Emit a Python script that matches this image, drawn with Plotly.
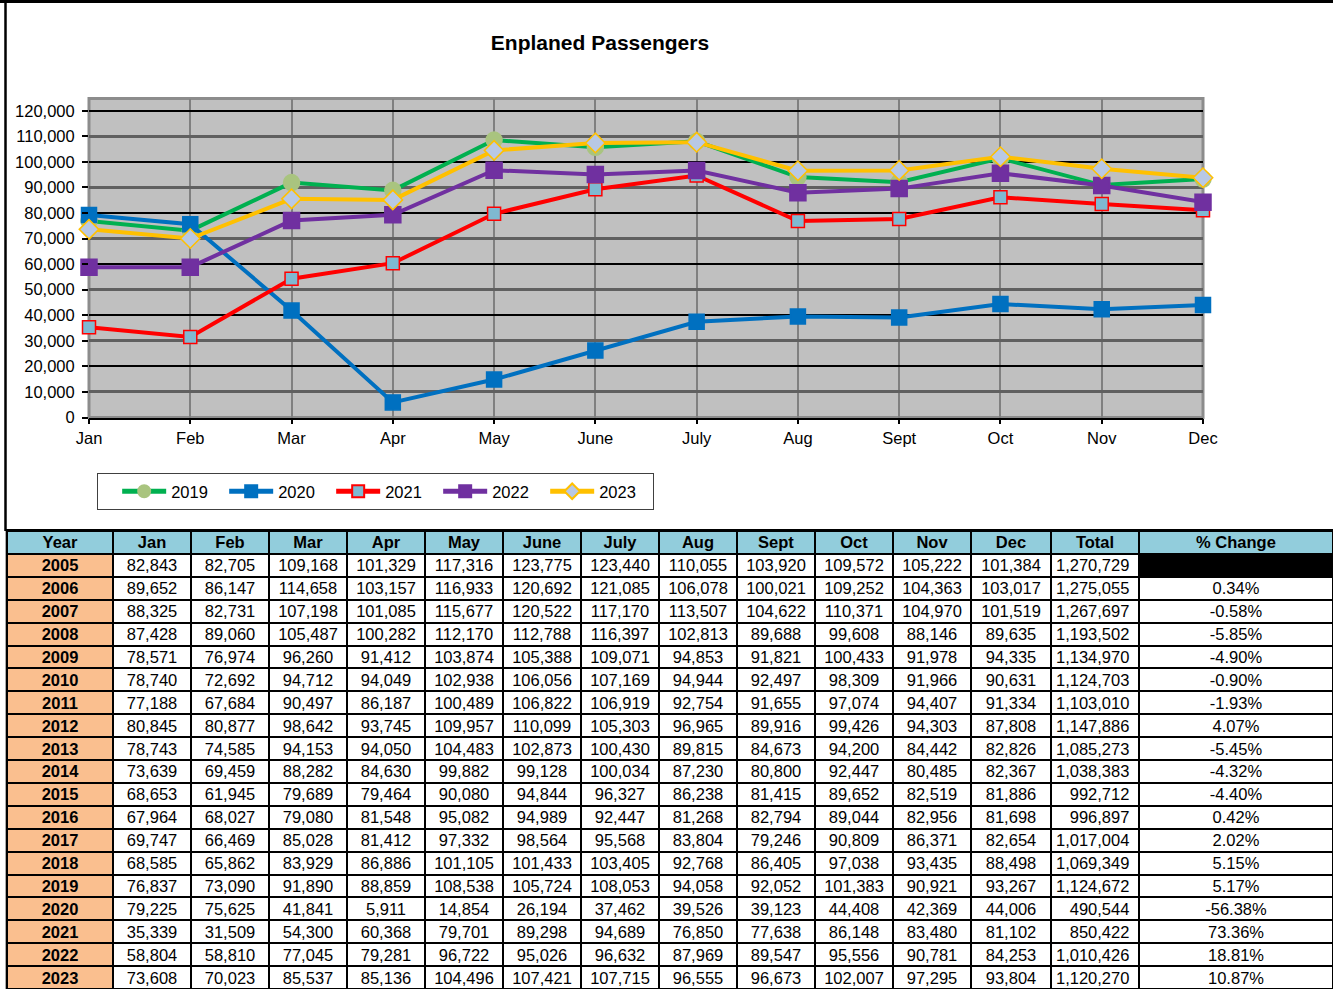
import plotly.graph_objects as go

W, H = 1333, 989

months = ["Jan", "Feb", "Mar", "Apr", "May", "June", "July", "Aug", "Sept", "Oct", "Nov", "Dec"]
years = list(range(2005, 2024))

jan = [82843, 89652, 88325, 87428, 78571, 78740, 77188, 80845, 78743, 73639, 68653, 67964, 69747, 68585, 76837, 79225, 35339, 58804, 73608]
feb = [82705, 86147, 82731, 89060, 76974, 72692, 67684, 80877, 74585, 69459, 61945, 68027, 66469, 65862, 73090, 75625, 31509, 58810, 70023]
mar = [109168, 114658, 107198, 105487, 96260, 94712, 90497, 98642, 94153, 88282, 79689, 79080, 85028, 83929, 91890, 41841, 54300, 77045, 85537]
apr = [101329, 103157, 101085, 100282, 91412, 94049, 86187, 93745, 94050, 84630, 79464, 81548, 81412, 86886, 88859, 5911, 60368, 79281, 85136]
may = [117316, 116933, 115677, 112170, 103874, 102938, 100489, 109957, 104483, 99882, 90080, 95082, 97332, 101105, 108538, 14854, 79701, 96722, 104496]
jun = [123775, 120692, 120522, 112788, 105388, 106056, 106822, 110099, 102873, 99128, 94844, 94989, 98564, 101433, 105724, 26194, 89298, 95026, 107421]
jul = [123440, 121085, 117170, 116397, 109071, 107169, 106919, 105303, 100430, 100034, 96327, 92447, 95568, 103405, 108053, 37462, 94689, 96632, 107715]
aug = [110055, 106078, 113507, 102813, 94853, 94944, 92754, 96965, 89815, 87230, 86238, 81268, 83804, 92768, 94058, 39526, 76850, 87969, 96555]
sep = [103920, 100021, 104622, 89688, 91821, 92497, 91655, 89916, 84673, 80800, 81415, 82794, 79246, 86405, 92052, 39123, 77638, 89547, 96673]
oct_ = [109572, 109252, 110371, 99608, 100433, 98309, 97074, 99426, 94200, 92447, 89652, 89044, 90809, 97038, 101383, 44408, 86148, 95556, 102007]
nov = [105222, 104363, 104970, 88146, 91978, 91966, 94407, 94303, 84442, 80485, 82519, 82956, 86371, 93435, 90921, 42369, 83480, 90781, 97295]
dec = [101384, 103017, 101519, 89635, 94335, 90631, 91334, 87808, 82826, 82367, 81886, 81698, 82654, 88498, 93267, 44006, 81102, 84253, 93804]
totals = [1270729, 1275055, 1267697, 1193502, 1134970, 1124703, 1103010, 1147886, 1085273, 1038383, 992712, 996897, 1017004, 1069349, 1124672, 490544, 850422, 1010426, 1120270]
pct_change = ["", "0.34%", "-0.58%", "-5.85%", "-4.90%", "-0.90%", "-1.93%", "4.07%", "-5.45%", "-4.32%", "-4.40%", "0.42%", "2.02%", "5.15%", "5.17%", "-56.38%", "73.36%", "18.81%", "10.87%"]

month_cols = [jan, feb, mar, apr, may, jun, jul, aug, sep, oct_, nov, dec]
chart_years = [2019, 2020, 2021, 2022, 2023]

# ---- styles ----
line_colors = {2019: "#00B050", 2020: "#0070C0", 2021: "#FF0000", 2022: "#7030A0", 2023: "#FFC000"}
marker_fill = {2019: "#A9C47F", 2020: "#0070C0", 2021: "#7FB9D1", 2022: "#7030A0", 2023: "#B8C8E4"}
marker_line = {2019: "#A9C47F", 2020: "#0070C0", 2021: "#FF0000", 2022: "#7030A0", 2023: "#FFC000"}
marker_sym = {2019: "circle", 2020: "square", 2021: "square", 2022: "square", 2023: "diamond"}
marker_size = {2019: 16, 2020: 15, 2021: 13, 2022: 16, 2023: 15}
col_widths = [106] + [78] * 11 + [80, 88, 194]

FONT = "Liberation Sans, Arial, sans-serif"
FS = 16.5

fig = go.Figure()

for y in chart_years:
    i = years.index(y)
    vals = [col[i] for col in month_cols]
    fig.add_trace(go.Scatter(
        x=months, y=vals, name=str(y), mode="lines+markers",
        line=dict(color=line_colors[y], width=4),
        marker=dict(symbol=marker_sym[y], size=marker_size[y], color=marker_fill[y],
                    line=dict(color=marker_line[y], width=1.5)),
        cliponaxis=False, xaxis="x", yaxis="y",
    ))

# invisible helper traces for alternating grid overlay axes
fig.add_trace(go.Scatter(x=[months[0]], y=[None], xaxis="x", yaxis="y2", showlegend=False, hoverinfo="skip"))
fig.add_trace(go.Scatter(x=[months[0]], y=[None], xaxis="x", yaxis="y3", showlegend=False, hoverinfo="skip"))


def right_pad(s, width_ref):
    # pad with figure/punctuation spaces so centred text lines up on the right
    nd = sum(c.isdigit() for c in width_ref) - sum(c.isdigit() for c in s)
    nc = width_ref.count(",") - s.count(",")
    return "\u2007" * max(nd, 0) + "\u2008" * max(nc, 0) + s


# ---- table as a heatmap grid ----
header = ["<b>Year</b>"] + ["<b>%s</b>" % m for m in months] + ["<b>Total</b>", "<b>% Change</b>"]
total_txt = [f"{v:,}" for v in totals]
widest_total = max(total_txt, key=len)
text_rows = [header]
z_rows = [[2] * len(header)]
for r, yr in enumerate(years):
    row = (["<b>%d</b>" % yr] + [f"{col[r]:,}" for col in month_cols]
           + [right_pad(total_txt[r], widest_total) + "\u2008", pct_change[r]])
    text_rows.append(row)
    zr = [1] + [0] * 13 + [3 if pct_change[r] == "" else 0]
    z_rows.append(zr)

x_edges = [0]
for w in col_widths:
    x_edges.append(x_edges[-1] + w)
y_edges = list(range(len(text_rows) + 1))

colorscale = [[0, "white"], [1 / 6, "white"], [1 / 6, "#FABF8F"], [0.5, "#FABF8F"],
              [0.5, "#92CDDC"], [5 / 6, "#92CDDC"], [5 / 6, "black"], [1, "black"]]

fig.add_trace(go.Heatmap(
    x=x_edges, y=y_edges, z=z_rows, text=text_rows, texttemplate="%{text}",
    textfont=dict(family=FONT, size=FS, color="black"),
    colorscale=colorscale, zmin=0, zmax=3, showscale=False,
    xgap=2, ygap=2, hoverinfo="skip", xaxis="x2", yaxis="y4",
))

tbl_top = 531
y_top = 124800
ydom = [(H - 417.5) / H, (H - 98.5) / H]

fig.update_layout(
    width=W, height=H, autosize=False,
    margin=dict(l=0, r=0, t=0, b=0, pad=0, autoexpand=False),
    paper_bgcolor="white",
    plot_bgcolor="#C0C0C0",
    font=dict(family=FONT, size=FS, color="black"),
    title=dict(text="<b>Enplaned Passengers</b>", x=600 / W, xanchor="center",
               y=1 - 43 / H, yanchor="middle", yref="container", automargin=False,
               font=dict(family=FONT, size=21, color="black")),
    xaxis=dict(domain=[89 / W, 1203 / W], type="category", range=[0, 11], anchor="y",
               showgrid=True, gridcolor="#808080", gridwidth=2, automargin=False,
               ticks="outside", ticklen=5, tickcolor="black", tickwidth=1.5,
               showline=True, linecolor="black", linewidth=1.5,
               tickfont=dict(family=FONT, size=FS), ticklabelstandoff=0),
    yaxis=dict(domain=ydom, range=[0, y_top], anchor="x", automargin=False,
               tickvals=list(range(0, 120001, 10000)), tickformat=",",
               showgrid=False, zeroline=False,
               ticks="outside", ticklen=6, tickcolor="black", tickwidth=1.5,
               tickfont=dict(family=FONT, size=FS), ticklabelstandoff=4),
    yaxis2=dict(domain=ydom, range=[0, y_top], overlaying="y", side="left", anchor="x",
                automargin=False,
                tickvals=list(range(0, 120001, 20000)), showticklabels=False, ticks="",
                showgrid=True, gridcolor="black", gridwidth=1.5, zeroline=False),
    yaxis3=dict(domain=ydom, range=[0, y_top], overlaying="y", side="left", anchor="x",
                automargin=False,
                tickvals=list(range(10000, 120001, 20000)), showticklabels=False, ticks="",
                showgrid=True, gridcolor="#606060", gridwidth=2.5, zeroline=False),
    xaxis2=dict(domain=[7 / W, 1], range=[0, x_edges[-1]], anchor="y4", visible=False,
                automargin=False, showgrid=False, zeroline=False),
    yaxis4=dict(domain=[0, (H - tbl_top) / H], range=[len(text_rows), 0], anchor="x2",
                automargin=False, visible=False, showgrid=False, zeroline=False),
    legend=dict(orientation="h", x=97 / W, y=(H - 473) / H, xanchor="left", yanchor="top",
                bgcolor="white", bordercolor="#404040", borderwidth=1,
                font=dict(family=FONT, size=FS, color="black"),
                title=dict(text="&nbsp;&nbsp;", side="left", font=dict(family=FONT, size=FS)),
                entrywidth=48, entrywidthmode="pixels", itemsizing="constant", itemwidth=44),
    showlegend=True,
    shapes=[
        dict(type="rect", xref="x2 domain", yref="y4 domain", x0=-0.001, x1=1.01, y0=-0.01, y1=1 + 2 / 458,
             fillcolor="black", line=dict(width=0), layer="below"),
        dict(type="rect", xref="x domain", yref="y domain", x0=0, x1=1, y0=0, y1=1,
             line=dict(color="#8C8C8C", width=3), layer="below"),
        dict(type="line", xref="paper", yref="paper", x0=0, x1=1, y0=1 - 1.5 / H, y1=1 - 1.5 / H,
             line=dict(color="black", width=3)),
        dict(type="line", xref="paper", yref="paper", x0=5.5 / W, x1=5.5 / W, y0=(H - tbl_top) / H, y1=1,
             line=dict(color="black", width=2.5)),
    ],
)

fig.write_html("out.html", config={"displayModeBar": False, "responsive": False},
               post_script="document.body.style.margin='0px';")
